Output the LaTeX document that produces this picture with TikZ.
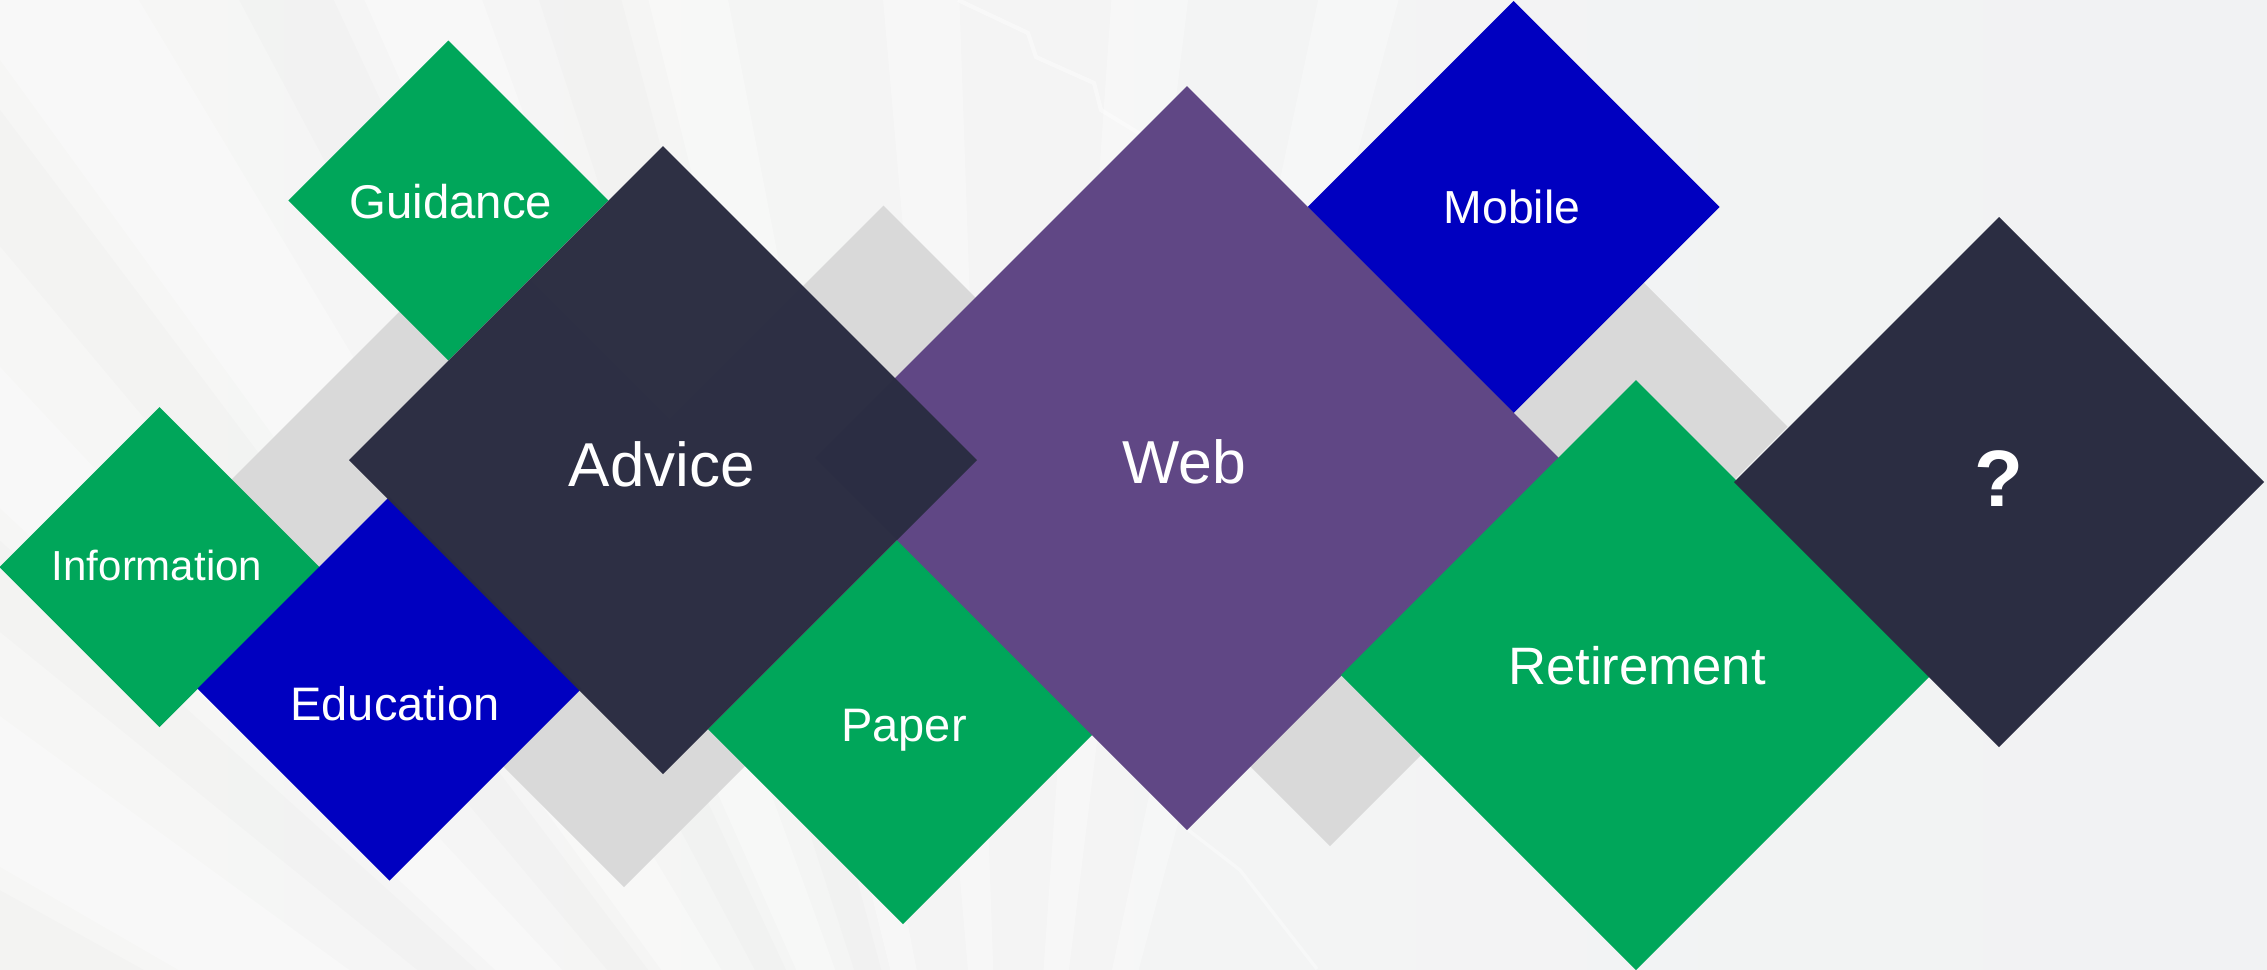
\documentclass[tikz,border=0pt]{standalone}
\usepackage{fontspec}
\setmainfont{Liberation Sans}
\definecolor{cgreen}{HTML}{00A65A}
\definecolor{cblue}{HTML}{0000C0}
\definecolor{cnavy}{HTML}{2B2D42}
\definecolor{cpurple}{HTML}{604785}
\definecolor{cgray}{HTML}{D9D9D9}
\definecolor{bgleft}{HTML}{F6F6F5}
\definecolor{bgright}{HTML}{F1F2F3}
\newcommand\dmd[4]{\fill[#1] (#2-#4,#3) -- (#2,#3-#4) -- (#2+#4,#3) -- (#2,#3+#4) -- cycle;}
\tikzset{
  lbl/.style={text=white, anchor=base, inner sep=0pt},
  lightray/.style={fill=white, fill opacity=0.3},
  darkray/.style={fill=black, fill opacity=0.012},
  band/.style={fill=cgray}
}
\begin{document}
\begin{tikzpicture}[x=0.3pt,y=-0.3pt]
\useasboundingbox (0,0) rectangle (2267,969);
% background
\begin{scope}
\clip (0,0) rectangle (2267,969);
\shade[left color=bgleft, right color=bgright] (0,0) rectangle (2267,969);
\begin{scope}[shift={(1010,1450)}]
\foreach \a/\b in {-174/-169,-162/-157,-150/-144,-137/-133,-126/-121,-114/-110,-104/-101,-95/-92,-86/-83,-78/-75}
  \fill[lightray] (0,0) -- (\a:3200) -- (\b:3200) -- cycle;
\foreach \a/\b in {-167/-164,-155/-151,-141/-138,-130/-127,-118/-115,-108/-105}
  \fill[darkray] (0,0) -- (\a:3200) -- (\b:3200) -- cycle;
\end{scope}
\draw[white, opacity=0.45, line width=1.2pt] (958,0) -- (1028,33) -- (1036,57) -- (1094,83) -- (1101,110) -- (1150,140);
\draw[white, opacity=0.4, line width=1pt] (1187,829) -- (1240,870) -- (1317,969);
\end{scope}
% gray bands
\fill[band] (155.5,555.5) -- (480.5,230.5) -- (691.5,441.5) -- (366.5,766.5) -- cycle;
\fill[band] (413,676) -- (883.5,205.5) -- (1094.5,416.5) -- (624,887) -- cycle;
\fill[band] (1119.5,635.5) -- (1558,197) -- (1768.5,407.5) -- (1330,846) -- cycle;
\fill[band] (1377.5,377.5) -- (1558,197) -- (1787.5,426.5) -- (1607,607) -- cycle;
% diamonds
\dmd{cgreen}{159.5}{567}{160}
\dmd{cblue}{389.5}{688.5}{192}
\dmd{cgreen}{448.4}{200.5}{160}
\dmd{cgreen}{903}{729}{195}
\dmd{cblue}{1513.6}{207}{206}
\dmd{cpurple}{1187}{458}{372}
\dmd{cgreen}{1636}{675}{295}
\dmd{cnavy}{1999}{482}{265}
\fill[cnavy, fill opacity=0.985] (663-314,460) -- (663,460-314) -- (663+314,460) -- (663,460+314) -- cycle;
% labels
\node[lbl, font=\fontsize{14.2}{17}\selectfont] (guid) at (451,218.5) {Guidance};
\node[lbl, font=\fontsize{12.6}{15}\selectfont] (info) at (157,580) {Information};
\node[lbl, font=\fontsize{14.1}{17}\selectfont] (educ) at (395,720) {Education};
\node[lbl, font=\fontsize{18.6}{22}\selectfont] (adv) at (662,486) {Advice};
\node[lbl, font=\fontsize{18.2}{22}\selectfont] (web) at (1184,483) {Web};
\node[lbl, font=\fontsize{13.9}{17}\selectfont] (mob) at (1512,223) {Mobile};
\node[lbl, font=\fontsize{14.1}{17}\selectfont] (pap) at (904,741) {Paper};
\node[lbl, font=\fontsize{15.8}{19}\selectfont] (ret) at (1637,684) {Retirement};
\node[lbl, font=\fontsize{24}{28}\selectfont\bfseries] (q) at (1999,506.5) {?};
\end{tikzpicture}
\end{document}
